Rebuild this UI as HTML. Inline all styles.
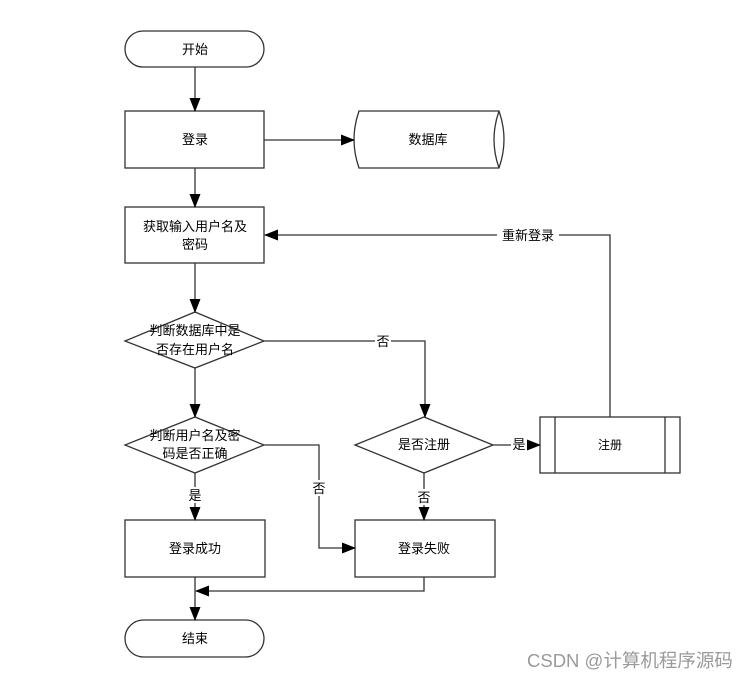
<!DOCTYPE html>
<html><head><meta charset="utf-8"><style>
html,body{margin:0;padding:0;background:#fff;}
svg{display:block;}
text{font-family:"Liberation Sans","Noto Sans CJK SC",sans-serif;font-size:13px;fill:#000;}
</style></head><body>
<svg width="752" height="679" viewBox="0 0 752 679" xmlns="http://www.w3.org/2000/svg">
<defs><marker id="a" markerWidth="14" markerHeight="12" refX="13" refY="5.5" orient="auto" markerUnits="userSpaceOnUse"><path d="M0,0 L14,5.5 L0,11 z" fill="#000"/></marker></defs>
<g fill="none" stroke="#333" stroke-width="1.3">
<rect x="125" y="31" width="139" height="36" rx="18"/>
<rect x="125" y="111" width="139" height="57"/>
<path d="M359,111 H499 Q509,139.5 499,168 H359 Q349,139.5 359,111 Z"/>
<path d="M499,111 Q489,139.5 499,168"/>
<rect x="125" y="207" width="139" height="56"/>
<path d="M125,341 L195,312 L264,341 L195,368 Z"/>
<path d="M125,445 L195,417 L264,445 L195,473 Z"/>
<path d="M355,445 L424,417 L493,445 L424,473 Z"/>
<rect x="540" y="417" width="140" height="56"/>
<line x1="555" y1="417" x2="555" y2="473"/><line x1="665" y1="417" x2="665" y2="473"/>
<rect x="125" y="520" width="140" height="57"/>
<rect x="355" y="520" width="140" height="57"/>
<rect x="125" y="620" width="139" height="37" rx="18.5"/>
</g>
<g fill="none" stroke="#333" stroke-width="1.3" marker-end="url(#a)">
<line x1="195" y1="67" x2="195" y2="111"/>
<line x1="264" y1="140" x2="354" y2="140"/>
<line x1="195" y1="168" x2="195" y2="207"/>
<line x1="195" y1="263" x2="195" y2="312"/>
<line x1="195" y1="368" x2="195" y2="417"/>
<line x1="195" y1="473" x2="195" y2="520"/>
<polyline points="264,341 425,341 425,417"/>
<polyline points="264,445 319,445 319,548 355,548"/>
<line x1="493" y1="445" x2="540" y2="445"/>
<line x1="424" y1="473" x2="424" y2="520"/>
<polyline points="610,417 610,235 265,235"/>
<polyline points="424,577 424,591 196,591"/>
<line x1="195" y1="577" x2="195" y2="620"/>
</g>
<g text-anchor="middle">
<text x="195" y="54">开始</text>
<text x="195" y="144">登录</text>
<text x="428" y="144">数据库</text>
<text x="195" y="231">获取输入用户名及</text>
<text x="195" y="249">密码</text>
<text x="195" y="335">判断数据库中是</text>
<text x="195" y="354">否存在用户名</text>
<text x="195" y="440">判断用户名及密</text>
<text x="195" y="458">码是否正确</text>
<text x="424" y="449">是否注册</text>
<text x="610" y="449" style="font-size:12px">注册</text>
<text x="195" y="553">登录成功</text>
<text x="424" y="553">登录失败</text>
<text x="195" y="643">结束</text>
</g>
<g>
<rect x="497" y="227" width="62" height="16" fill="#fff"/><text x="528" y="240" text-anchor="middle">重新登录</text>
<rect x="375" y="333" width="16" height="16" fill="#fff"/><text x="383" y="346" text-anchor="middle">否</text>
<rect x="511" y="436" width="16" height="16" fill="#fff"/><text x="519" y="449" text-anchor="middle">是</text>
<rect x="311" y="480" width="16" height="16" fill="#fff"/><text x="319" y="493" text-anchor="middle">否</text>
<rect x="187" y="487" width="16" height="16" fill="#fff"/><text x="195" y="500" text-anchor="middle">是</text>
<rect x="416" y="489" width="16" height="16" fill="#fff"/><text x="424" y="502" text-anchor="middle">否</text>
</g>
<text x="527" y="667" style="font-size:18.5px;fill:#9a9a9a">CSDN @计算机程序源码</text>
</svg>
</body></html>
